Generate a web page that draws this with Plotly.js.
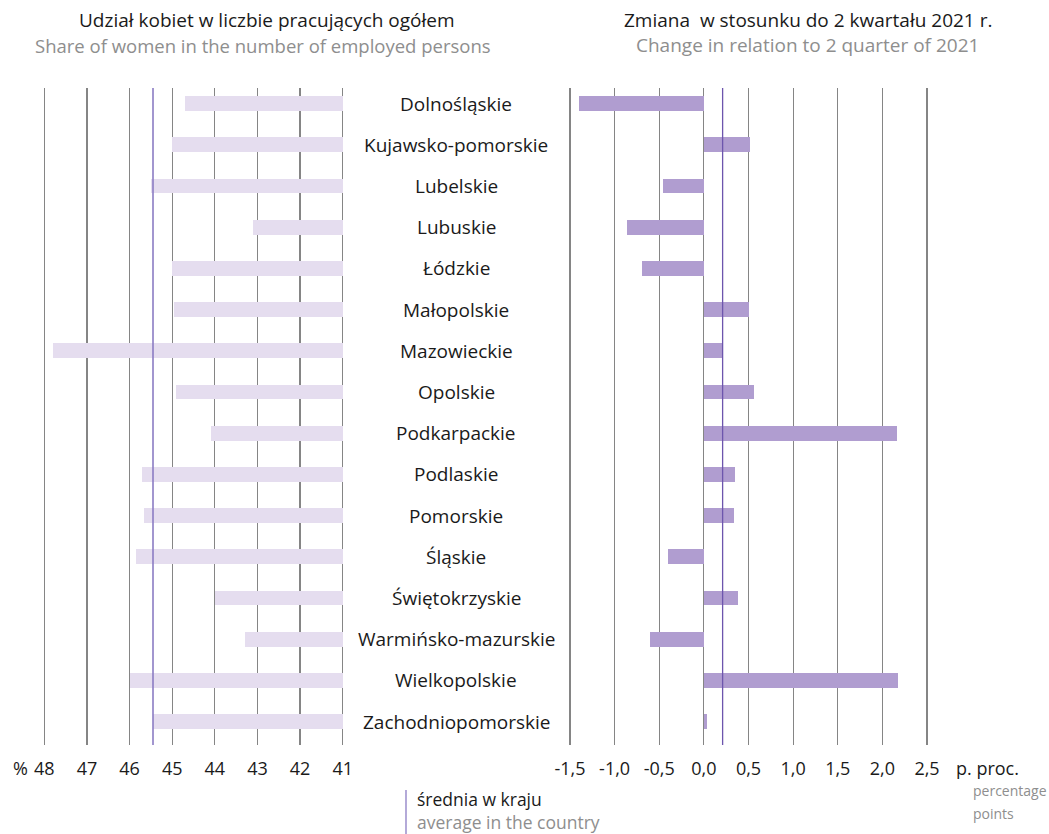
<!DOCTYPE html>
<html><head><meta charset="utf-8">
<script src="https://cdn.plot.ly/plotly-3.0.1.min.js"></script>
<style>html,body{margin:0;padding:0;background:#fff}#chart{width:1049px;height:834px}</style>
</head><body><div id="chart"></div>
<script>
const regions = ["Dolnośląskie","Kujawsko-pomorskie","Lubelskie","Lubuskie","Łódzkie","Małopolskie","Mazowieckie","Opolskie","Podkarpackie","Podlaskie","Pomorskie","Śląskie","Świętokrzyskie","Warmińsko-mazurskie","Wielkopolskie","Zachodniopomorskie"];
const shareWomen = [44.7,45.0,45.5,43.1,45.0,44.95,47.8,44.9,44.1,45.7,45.65,45.85,44.0,43.3,46.0,45.45];
const changePP = [-1.4,0.52,-0.46,-0.86,-0.69,0.5,0.21,0.56,2.16,0.35,0.34,-0.4,0.38,-0.6,2.17,0.04];
const avgShare = 45.45;
const avgChange = 0.21;
const leftTicks = [48,47,46,45,44,43,42,41];
const rightTicks = [-1.5,-1.0,-0.5,0.0,0.5,1.0,1.5,2.0,2.5];
const rightTickText = ["-1,5","-1,0","-0,5","0,0","0,5","1,0","1,5","2,0","2,5"];

const W=1049, H=834, T=88, B=745;
const px = x => x/W;
const py = y => (B-y)/(B-T);
const FONT = "Open Sans, Noto Sans, sans-serif";
const BLACK = "#1a1a1a", GREY = "#8e8e8e";
const FS = 19;

// small padding so that the edge gridlines are drawn
const lPx = (342.7-44.3)/7, lPad = 0.03;
const rPx = (927-570)/4, rPad = 0.015;

const baseShare = leftTicks[leftTicks.length-1];
const traces = [
  {type:'bar', orientation:'h', y:regions, x:shareWomen.map(v=>v-baseShare), base:baseShare,
   xaxis:'x', yaxis:'y', width:0.36, marker:{color:'#e5ddef'}, hoverinfo:'skip'},
  {type:'bar', orientation:'h', y:regions, x:changePP,
   xaxis:'x2', yaxis:'y', width:0.36, marker:{color:'#b09dd0'}, hoverinfo:'skip'}
];

const ann = [];
regions.forEach(r => ann.push({xref:'paper', yref:'y', x:px(456), y:r, text:r, showarrow:false,
  xanchor:'center', yanchor:'middle', font:{family:FONT, size:FS, color:BLACK}}));
ann.push({xref:'paper', yref:'paper', x:px(267), y:py(20), text:"Udział kobiet w liczbie pracujących ogółem", showarrow:false, xanchor:'center', yanchor:'middle', font:{family:FONT,size:19,color:BLACK}});
ann.push({xref:'paper', yref:'paper', x:px(263), y:py(45), text:"Share of women in the number of employed persons", showarrow:false, xanchor:'center', yanchor:'middle', font:{family:FONT,size:18.5,color:GREY}});
ann.push({xref:'paper', yref:'paper', x:px(808), y:py(20), text:"Zmiana  w stosunku do 2 kwartału 2021 r.", showarrow:false, xanchor:'center', yanchor:'middle', font:{family:FONT,size:19,color:BLACK}});
ann.push({xref:'paper', yref:'paper', x:px(807), y:py(45), text:"Change in relation to 2 quarter of 2021", showarrow:false, xanchor:'center', yanchor:'middle', font:{family:FONT,size:19,color:GREY}});
ann.push({xref:'paper', yref:'paper', x:px(11), y:py(768), text:"%", showarrow:false, xanchor:'left', yanchor:'middle', font:{family:FONT,size:18,color:BLACK}});
ann.push({xref:'paper', yref:'paper', x:px(954), y:py(768), text:"p. proc.", showarrow:false, xanchor:'left', yanchor:'middle', font:{family:FONT,size:18,color:BLACK}});
ann.push({xref:'paper', yref:'paper', x:px(972), y:py(790), text:"percentage", showarrow:false, xanchor:'left', yanchor:'middle', borderpad:0, font:{family:FONT,size:14,color:GREY}});
ann.push({xref:'paper', yref:'paper', x:px(972), y:py(813), text:"points", showarrow:false, xanchor:'left', yanchor:'middle', borderpad:0, font:{family:FONT,size:14,color:GREY}});
ann.push({xref:'paper', yref:'paper', x:px(416), y:py(799), text:"średnia w kraju", showarrow:false, xanchor:'left', yanchor:'middle', borderpad:0, font:{family:FONT,size:17.5,color:BLACK}});
ann.push({xref:'paper', yref:'paper', x:px(416), y:py(822), text:"average in the country", showarrow:false, xanchor:'left', yanchor:'middle', borderpad:0, font:{family:FONT,size:17.5,color:GREY}});

const shapes = [
  {type:'line', xref:'x', yref:'paper', x0:avgShare, x1:avgShare, y0:0, y1:1, line:{color:'#8b7cc4', width:1.6}},
  {type:'line', xref:'x2', yref:'paper', x0:avgChange, x1:avgChange, y0:0, y1:1, line:{color:'#6d55ad', width:1.3}},
  {type:'line', xref:'paper', yref:'paper', x0:px(406), x1:px(406), y0:py(790), y1:py(834), line:{color:'#8b7cc4', width:1.3}}
];

const layout = {
  width:W, height:H, margin:{l:0,r:0,t:T,b:H-B}, paper_bgcolor:'#fff', plot_bgcolor:'rgba(0,0,0,0)',
  showlegend:false, barmode:'overlay', bargap:0,
  font:{family:FONT, size:18, color:BLACK},
  xaxis:{domain:[px(44.3-lPad*lPx),px(342.7+lPad*lPx)], range:[48+lPad,41-lPad], autorange:false, tickvals:leftTicks, ticktext:leftTicks.map(String),
    showgrid:true, gridcolor:'#858585', gridwidth:1.2, zeroline:false, showline:false,
    ticks:'outside', ticklen:7, tickcolor:'rgba(0,0,0,0)', tickfont:{family:FONT,size:18,color:BLACK}},
  xaxis2:{domain:[px(570-rPad*rPx),px(927+rPad*rPx)], range:[-1.5-rPad,2.5+rPad], autorange:false, tickvals:rightTicks, ticktext:rightTickText,
    showgrid:true, gridcolor:'#858585', gridwidth:1.2, zeroline:false, showline:false, anchor:'y',
    ticks:'outside', ticklen:7, tickcolor:'rgba(0,0,0,0)', tickfont:{family:FONT,size:18,color:BLACK}},
  yaxis:{type:'category', categoryorder:'array', categoryarray:regions, range:[15.57,-0.38], autorange:false,
    showticklabels:false, showgrid:false, zeroline:false, showline:false, ticks:''},
  annotations:ann, shapes:shapes
};
Plotly.newPlot('chart', traces, layout, {staticPlot:true, displayModeBar:false});
</script></body></html>
